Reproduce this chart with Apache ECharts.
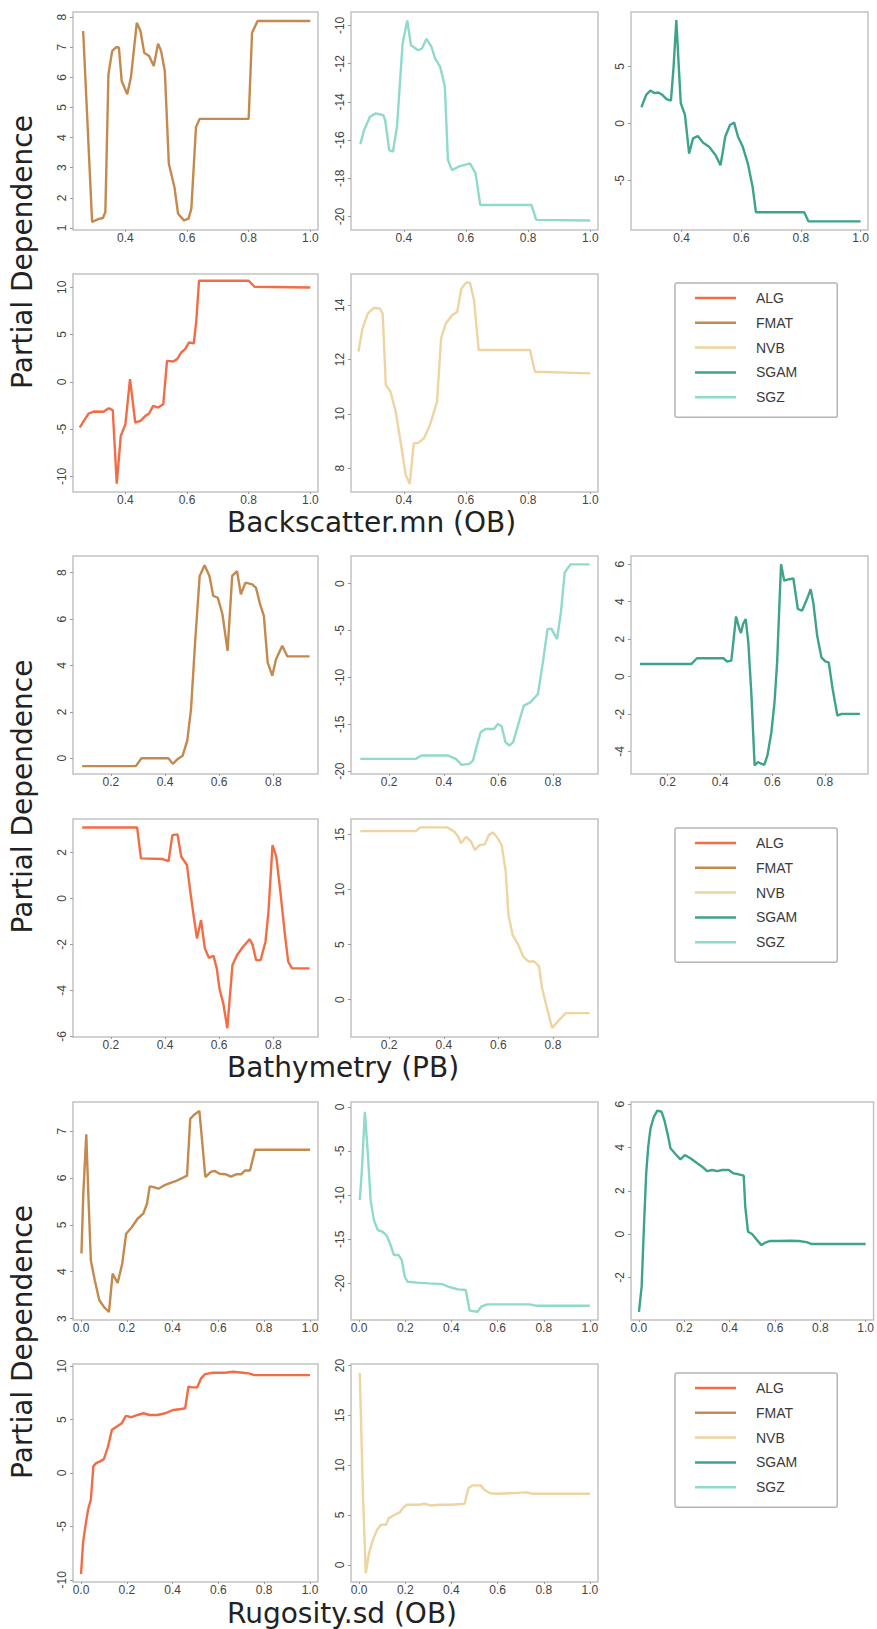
<!DOCTYPE html>
<html><head><meta charset="utf-8">
<script src="https://cdn.jsdelivr.net/npm/echarts@6.0.0/dist/echarts.min.js"></script>
<style>html,body{margin:0;padding:0;background:#fff}#c{width:877px;height:1629px}</style>
</head><body><div id="c"></div>
<script>
// ---------- categories / tick labels ----------
const species = ['ALG', 'FMAT', 'NVB', 'SGAM', 'SGZ'];
const predictorTitles = ['Backscatter.mn (OB)', 'Bathymetry (PB)', 'Rugosity.sd (OB)'];
const yAxisTitle = 'Partial Dependence';
const xTicksBackscatter = [0.4, 0.6, 0.8, 1.0];
const xTicksBathymetry = [0.2, 0.4, 0.6, 0.8];
const xTicksRugosity = [0.0, 0.2, 0.4, 0.6, 0.8, 1.0];

// ---------- Backscatter.mn (OB) ----------
const bsFMAT_x = [0.263,0.292,0.314,0.327,0.335,0.345,0.357,0.37,0.379,0.388,0.406,0.418,0.437,0.449,0.461,0.477,0.492,0.506,0.516,0.528,0.541,0.559,0.571,0.59,0.605,0.614,0.629,0.641,0.8,0.811,0.829,1.0];
const bsFMAT_y = [7.54,1.2,1.3,1.33,1.53,6.1,6.87,7.0,6.99,5.88,5.44,6.0,7.81,7.54,6.82,6.71,6.38,7.12,6.87,6.2,3.13,2.36,1.47,1.25,1.31,1.64,4.34,4.62,4.62,7.48,7.87,7.87];
const bsSGZ_x = [0.26,0.272,0.291,0.31,0.334,0.34,0.353,0.365,0.378,0.396,0.411,0.423,0.446,0.458,0.473,0.489,0.501,0.517,0.532,0.542,0.555,0.576,0.613,0.631,0.646,0.811,0.826,1.0];
const bsSGZ_y = [-16.21,-15.48,-14.78,-14.6,-14.7,-14.96,-16.52,-16.6,-15.3,-10.96,-9.74,-11.04,-11.3,-11.22,-10.7,-11.13,-11.74,-12.17,-13.2,-17.04,-17.57,-17.39,-17.22,-17.74,-19.39,-19.39,-20.17,-20.2];
const bsSGAM_x = [0.265,0.281,0.295,0.308,0.321,0.335,0.349,0.364,0.373,0.382,0.389,0.397,0.411,0.425,0.438,0.454,0.472,0.492,0.514,0.53,0.537,0.546,0.562,0.576,0.589,0.605,0.622,0.638,0.649,0.811,0.825,1.0];
const bsSGAM_y = [1.41,2.5,2.88,2.65,2.7,2.5,2.12,2.0,5.0,9.06,5.59,1.76,0.74,-2.65,-1.32,-1.12,-1.71,-2.06,-2.79,-3.68,-2.65,-1.18,-0.15,0.06,-1.18,-2.06,-3.53,-5.59,-7.79,-7.79,-8.59,-8.59];
const bsALG_x = [0.252,0.265,0.281,0.297,0.329,0.346,0.359,0.372,0.385,0.4,0.415,0.432,0.449,0.465,0.477,0.49,0.506,0.523,0.535,0.555,0.568,0.581,0.594,0.606,0.622,0.63,0.639,0.8,0.819,1.0];
const bsALG_y = [-4.83,-4.13,-3.35,-3.14,-3.17,-2.79,-3.0,-10.76,-5.71,-4.48,0.28,-4.3,-4.13,-3.6,-3.35,-2.54,-2.72,-2.36,2.22,2.15,2.4,3.1,3.46,4.16,4.06,6.45,10.69,10.69,10.05,9.98];
const bsNVB_x = [0.254,0.267,0.284,0.303,0.323,0.332,0.342,0.357,0.374,0.391,0.406,0.419,0.432,0.445,0.465,0.484,0.507,0.52,0.535,0.555,0.572,0.585,0.6,0.613,0.626,0.641,0.806,0.822,1.0];
const bsNVB_y = [12.29,13.14,13.69,13.9,13.88,13.69,11.06,10.82,10.08,8.86,7.76,7.41,8.92,8.92,9.1,9.59,10.45,12.78,13.33,13.63,13.76,14.61,14.83,14.83,14.18,12.35,12.35,11.55,11.49];

// ---------- Bathymetry (PB) ----------
const baFMAT_x = [0.094,0.292,0.313,0.412,0.429,0.447,0.465,0.482,0.496,0.511,0.528,0.546,0.564,0.578,0.595,0.612,0.631,0.648,0.666,0.68,0.697,0.722,0.736,0.751,0.765,0.779,0.796,0.81,0.833,0.852,0.934];
const baFMAT_y = [-0.34,-0.34,0,0,-0.24,-0.03,0.11,0.76,2.12,4.99,7.86,8.32,7.86,7.0,6.92,6.21,4.63,7.86,8.07,7.07,7.57,7.5,7.35,6.64,6.14,4.13,3.56,4.27,4.85,4.39,4.39];
const baSGZ_x = [0.094,0.297,0.318,0.416,0.444,0.465,0.493,0.507,0.521,0.535,0.553,0.584,0.598,0.612,0.626,0.64,0.654,0.675,0.693,0.717,0.745,0.763,0.78,0.794,0.815,0.829,0.843,0.864,0.934];
const baSGZ_y = [-18.69,-18.69,-18.33,-18.33,-18.69,-19.33,-19.22,-18.87,-17.27,-15.85,-15.5,-15.5,-14.96,-15.21,-16.91,-17.27,-16.91,-14.79,-13.01,-12.66,-11.77,-8.4,-4.86,-4.79,-5.92,-3.09,1.17,2.06,2.06];
const baSGAM_x = [0.094,0.29,0.312,0.413,0.427,0.443,0.452,0.461,0.474,0.48,0.488,0.498,0.508,0.52,0.532,0.545,0.557,0.569,0.581,0.596,0.608,0.618,0.627,0.633,0.645,0.664,0.68,0.697,0.713,0.732,0.746,0.756,0.771,0.787,0.803,0.815,0.83,0.848,0.864,0.934];
const baSGAM_y = [0.67,0.67,0.98,0.98,0.8,0.85,2.0,3.21,2.54,2.33,2.81,3.07,1.83,-1.01,-4.74,-4.56,-4.65,-4.71,-4.21,-2.97,-1.37,0.76,3.96,6.0,5.12,5.2,5.24,3.61,3.52,4.14,4.67,3.96,2.18,1.03,0.8,0.76,-0.66,-2.08,-1.99,-1.99];
const baALG_x = [0.094,0.297,0.311,0.391,0.413,0.427,0.446,0.46,0.481,0.495,0.507,0.518,0.533,0.547,0.562,0.579,0.591,0.601,0.615,0.63,0.649,0.666,0.688,0.713,0.724,0.736,0.753,0.771,0.782,0.797,0.811,0.826,0.843,0.855,0.869,0.934];
const baALG_y = [3.08,3.08,1.74,1.71,1.62,2.75,2.78,1.81,1.45,0.14,-0.87,-1.74,-0.94,-2.17,-2.58,-2.49,-3.04,-3.91,-4.56,-5.64,-2.89,-2.46,-2.1,-1.77,-2.03,-2.68,-2.68,-1.88,-0.58,2.32,1.81,0.29,-1.59,-2.75,-3.04,-3.04];
const baNVB_x = [0.094,0.297,0.314,0.413,0.439,0.453,0.463,0.482,0.5,0.514,0.531,0.55,0.565,0.579,0.594,0.612,0.627,0.637,0.652,0.673,0.691,0.71,0.731,0.749,0.76,0.778,0.797,0.818,0.847,0.934];
const baNVB_y = [15.3,15.3,15.64,15.64,15.24,14.79,14.19,14.79,14.34,13.58,14.04,14.1,14.94,15.18,14.79,14.04,11.62,7.7,5.89,4.98,3.92,3.47,3.47,3.02,1.06,-0.75,-2.57,-1.96,-1.21,-1.21];

// ---------- Rugosity.sd (OB) ----------
const ruFMAT_x = [0.002,0.01,0.023,0.033,0.043,0.06,0.08,0.1,0.122,0.138,0.16,0.18,0.197,0.222,0.247,0.272,0.288,0.3,0.313,0.338,0.363,0.388,0.413,0.443,0.463,0.477,0.497,0.517,0.53,0.543,0.567,0.583,0.605,0.63,0.655,0.68,0.7,0.717,0.738,0.76,1.0];
const ruFMAT_y = [4.39,5.66,6.93,5.52,4.24,3.82,3.39,3.25,3.14,3.96,3.76,4.17,4.81,4.95,5.13,5.24,5.45,5.82,5.81,5.77,5.84,5.89,5.93,6.0,6.05,7.26,7.36,7.43,6.73,6.02,6.13,6.15,6.09,6.08,6.03,6.08,6.08,6.16,6.16,6.6,6.6];
const ruSGZ_x = [0.003,0.013,0.025,0.037,0.05,0.064,0.081,0.101,0.118,0.134,0.151,0.171,0.185,0.198,0.21,0.252,0.303,0.361,0.387,0.429,0.462,0.479,0.513,0.529,0.555,0.639,0.739,0.765,1.0];
const ruSGZ_y = [-10.57,-6.79,-0.57,-4.91,-10.57,-12.83,-13.96,-14.15,-14.53,-15.47,-16.79,-16.79,-17.36,-19.25,-19.81,-19.92,-20.0,-20.08,-20.38,-20.68,-20.75,-23.09,-23.21,-22.64,-22.38,-22.38,-22.38,-22.53,-22.53];
const ruSGAM_x = [0.0,0.012,0.022,0.032,0.041,0.051,0.066,0.081,0.1,0.114,0.129,0.139,0.161,0.183,0.202,0.227,0.257,0.279,0.301,0.323,0.345,0.367,0.396,0.418,0.44,0.462,0.469,0.481,0.499,0.521,0.54,0.557,0.579,0.616,0.667,0.704,0.74,0.762,1.0];
const ruSGAM_y = [-3.59,-2.43,0.34,2.8,4.04,4.88,5.42,5.7,5.65,5.19,4.5,3.96,3.7,3.45,3.65,3.5,3.27,3.11,2.91,2.96,2.91,2.96,2.96,2.8,2.76,2.7,1.26,0.11,0.0,-0.28,-0.51,-0.4,-0.32,-0.32,-0.31,-0.32,-0.37,-0.46,-0.46];
const ruALG_x = [0.0,0.009,0.019,0.031,0.043,0.054,0.066,0.083,0.1,0.118,0.135,0.157,0.178,0.196,0.221,0.247,0.273,0.299,0.334,0.368,0.403,0.429,0.455,0.469,0.486,0.507,0.524,0.542,0.576,0.628,0.663,0.706,0.732,0.758,1.0];
const ruALG_y = [-9.47,-6.52,-4.97,-3.42,-2.48,0.62,0.93,1.09,1.3,2.48,4.04,4.35,4.66,5.34,5.22,5.43,5.59,5.43,5.43,5.59,5.9,5.96,6.06,8.07,8.01,8.01,8.85,9.25,9.38,9.38,9.47,9.38,9.32,9.16,9.16];
const ruNVB_x = [0.003,0.017,0.029,0.043,0.06,0.078,0.095,0.117,0.129,0.155,0.176,0.19,0.207,0.259,0.284,0.31,0.345,0.397,0.457,0.474,0.491,0.526,0.543,0.566,0.595,0.672,0.724,0.75,1.0];
const ruNVB_y = [19.26,6.87,-0.84,1.17,2.51,3.52,4.02,4.02,4.69,5.03,5.26,5.7,6.03,6.03,6.13,5.96,6.03,6.03,6.13,7.71,7.97,7.97,7.54,7.2,7.14,7.2,7.27,7.14,7.14];

// ---------- styling ----------
const colors = { ALG: '#F26C45', FMAT: '#C4894D', NVB: '#EED4A0', SGAM: '#3DA38B', SGZ: '#8FDACB' };
const tickFont = 'Liberation Sans';
const bigFont = 'DejaVu Sans';

const zip = (xs, ys) => xs.map((x, i) => [x, ys[i]]);

const sectionTops = [[12, 274], [556, 819], [1102, 1364]];
const sectionXRange = [[0.23, 1.025], [0.06, 0.965], [-0.035, 1.035]];
const sectionXTicks = [xTicksBackscatter, xTicksBathymetry, xTicksRugosity];
const colLeft = [73, 351, 631];
const colWidth = [245, 247, 237];
const panelH = 218;

const sectionPanels = [
  [
    { sp: 'FMAT', x: bsFMAT_x, y: bsFMAT_y, yr: [0.93, 8.17], yt: [1,2,3,4,5,6,7,8] },
    { sp: 'SGZ', x: bsSGZ_x, y: bsSGZ_y, yr: [-20.7, -9.3], yt: [-20,-18,-16,-14,-12,-10] },
    { sp: 'SGAM', x: bsSGAM_x, y: bsSGAM_y, yr: [-9.35, 9.76], yt: [-5,0,5] },
    { sp: 'ALG', x: bsALG_x, y: bsALG_y, yr: [-11.65, 11.4], yt: [-10,-5,0,5,10] },
    { sp: 'NVB', x: bsNVB_x, y: bsNVB_y, yr: [7.12, 15.15], yt: [8,10,12,14] }
  ],
  [
    { sp: 'FMAT', x: baFMAT_x, y: baFMAT_y, yr: [-0.68, 8.72], yt: [0,2,4,6,8] },
    { sp: 'SGZ', x: baSGZ_x, y: baSGZ_y, yr: [-20.3, 2.95], yt: [-20,-15,-10,-5,0] },
    { sp: 'SGAM', x: baSGAM_x, y: baSGAM_y, yr: [-5.2, 6.44], yt: [-4,-2,0,2,4,6] },
    { sp: 'ALG', x: baALG_x, y: baALG_y, yr: [-6.02, 3.45], yt: [-6,-4,-2,0,2] },
    { sp: 'NVB', x: baNVB_x, y: baNVB_y, yr: [-3.38, 16.4], yt: [0,5,10,15] }
  ],
  [
    { sp: 'FMAT', x: ruFMAT_x, y: ruFMAT_y, yr: [2.97, 7.62], yt: [3,4,5,6,7] },
    { sp: 'SGZ', x: ruSGZ_x, y: ruSGZ_y, yr: [-24.15, 0.55], yt: [-20,-15,-10,-5,0] },
    { sp: 'SGAM', x: ruSGAM_x, y: ruSGAM_y, yr: [-3.97, 6.1], yt: [-2,0,2,4,6] },
    { sp: 'ALG', x: ruALG_x, y: ruALG_y, yr: [-10.2, 10.2], yt: [-10,-5,0,5,10] },
    { sp: 'NVB', x: ruNVB_x, y: ruNVB_y, yr: [-1.72, 20.15], yt: [0,5,10,15,20] }
  ]
];
const panelPos = [[0,0],[0,1],[0,2],[1,0],[1,1]]; // [row, col]

const grids = [], xAxes = [], yAxes = [], series = [], legends = [], graphics = [];
let idx = 0;
sectionPanels.forEach((panels, s) => {
  panels.forEach((p, k) => {
    const [row, col] = panelPos[k];
    let w = colWidth[col];
    if (s === 2 && col === 2) w = 244;
    grids.push({ left: colLeft[col], top: sectionTops[s][row], width: w, height: panelH,
      show: true, borderColor: '#c2c2c2', borderWidth: 1.5, backgroundColor: 'transparent' });
    xAxes.push({ type: 'value', gridIndex: idx, position: 'bottom',
      min: sectionXRange[s][0], max: sectionXRange[s][1],
      axisLine: { show: false, onZero: false }, splitLine: { show: false },
      axisTick: { show: true, customValues: sectionXTicks[s], length: 2, lineStyle: { color: '#9a9a9a' } },
      axisLabel: { customValues: sectionXTicks[s], formatter: v => Number(v).toFixed(1), margin: 2,
        fontSize: 12, color: '#444', fontFamily: tickFont } });
    yAxes.push({ type: 'value', gridIndex: idx, position: 'left',
      min: p.yr[0], max: p.yr[1],
      axisLine: { show: false, onZero: false }, splitLine: { show: false },
      axisTick: { show: true, customValues: p.yt, length: 3, lineStyle: { color: '#9a9a9a' } },
      axisLabel: { customValues: p.yt, rotate: 90, margin: 5, formatter: v => String(v),
        fontSize: 12, color: '#444', fontFamily: tickFont } });
    series.push({ type: 'line', name: p.sp, xAxisIndex: idx, yAxisIndex: idx,
      data: zip(p.x, p.y), symbol: 'none', showSymbol: false, silent: true,
      color: colors[p.sp], lineStyle: { width: 2.4, color: colors[p.sp] } });
    idx++;
  });
  legends.push({ orient: 'vertical', left: 675, top: sectionTops[s][1] + 9, data: species,
    icon: 'rect', itemWidth: 41, itemHeight: 2.5, itemGap: 10.8, selectedMode: false,
    padding: [8, 40, 13, 20], borderColor: '#b5b5b5', borderWidth: 1.5, borderRadius: 2,
    textStyle: { fontFamily: tickFont, fontSize: 14, color: '#3a3a3a', lineHeight: 14, padding: [0, 0, 0, 15] } });
  const midY = (sectionTops[s][0] + sectionTops[s][1] + panelH) / 2;
  graphics.push({ type: 'text', x: 22, y: midY, rotation: Math.PI / 2,
    style: { text: yAxisTitle, fontSize: 28, fontFamily: bigFont, fill: '#222', align: 'center', verticalAlign: 'middle' } });
});
const titleY = [522, 1067, 1613];
predictorTitles.forEach((t, s) => {
  graphics.push({ type: 'text', x: 227, y: titleY[s],
    style: { text: t, fontSize: 28, fontFamily: bigFont, fill: '#222', align: 'left', verticalAlign: 'middle' } });
});

const chart = echarts.init(document.getElementById('c'), null, { renderer: 'svg' });
chart.setOption({
  animation: false,
  backgroundColor: '#ffffff',
  grid: grids, xAxis: xAxes, yAxis: yAxes, series: series,
  legend: legends, graphic: graphics
});
</script></body></html>
